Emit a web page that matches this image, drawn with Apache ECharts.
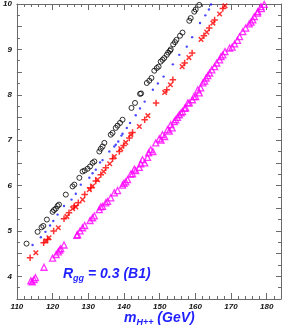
<!DOCTYPE html>
<html>
<head>
<meta charset="utf-8">
<script src="https://cdn.jsdelivr.net/npm/echarts@6/dist/echarts.min.js"></script>
<style>
html,body{margin:0;padding:0;background:#fff;}
#chart{width:284px;height:330px;}
</style>
</head>
<body>
<div id="chart"></div>
<script>
// x ticks (GeV) and y tick labels
const xTicks = [110, 120, 130, 140, 150, 160, 170, 180];
const yTicks = [4, 5, 6, 7, 8, 9, 10];

// black open circles [m_H++, value]
const blackCircles = [
  [112.7,4.72],[115.8,4.98],[116.9,5.08],[117.4,5.11],[118.4,5.25],[120.0,5.42],[120.4,5.46],
  [120.9,5.49],[121.4,5.55],[121.8,5.58],[123.7,5.80],[125.6,5.98],[126.1,6.02],[127.5,6.17],
  [128.4,6.31],[129.0,6.33],[129.8,6.37],[130.5,6.42],[131.2,6.50],[131.7,6.53],[133.1,6.75],
  [133.5,6.81],[134.0,6.86],[134.5,6.94],[136.3,7.12],[136.8,7.16],[137.7,7.27],[138.2,7.32],
  [138.9,7.38],[139.6,7.45],[142.1,7.71],[143.1,7.82],[144.5,8.02],[144.8,8.03],[146.4,8.26],
  [147.1,8.31],[147.7,8.37],[148.5,8.53],[149.2,8.59],[149.7,8.62],[150.3,8.73],[150.8,8.77],
  [151.3,8.81],[152.0,8.88],[152.4,8.93],[152.9,8.97],[153.1,9.00],[153.8,9.11],[154.3,9.16],
  [154.7,9.21],[155.7,9.30],[156.4,9.37],[158.3,9.63],[158.7,9.69],[159.7,9.83],[160.1,9.88],
  [161.1,9.98]
];

// blue small dots
const blueDots = [
  [114.4,4.69],[116.7,4.86],[118.0,4.98],[119.3,5.12],[120.2,5.22],[121.4,5.36],[123.2,5.55],
  [125.3,5.69],[126.5,5.82],[127.9,6.02],[130.3,6.17],[131.2,6.27],[132.1,6.35],[133.3,6.51],
  [134.0,6.56],[135.9,6.75],[137.3,6.86],[137.7,6.90],[138.4,6.97],[139.3,7.10],[139.6,7.14],
  [140.8,7.27],[141.7,7.38],[143.3,7.55],[144.5,7.70],[145.8,7.85],[148.1,8.11],[149.5,8.25],
  [151.1,8.40],[153.7,8.67],[155.5,8.88],[157.6,9.06],[159.1,9.27],[161.3,9.58],[162.8,9.75],
  [163.8,9.88],[164.4,9.99]
];

// red crosses
const redCrosses = [
  [113.7,4.41],[115.3,4.52],[117.5,4.74],[118.1,4.78],[118.6,4.81],[119.0,4.85],[120.3,5.00],
  [121.6,5.07],[123.2,5.27],[124.0,5.32],[124.6,5.40],[125.6,5.49],[126.1,5.55],[126.5,5.53],
  [127.2,5.62],[128.4,5.69],[129.0,5.80],[130.3,5.91],[130.7,5.95],[131.2,5.99],[132.1,6.10],
  [132.6,6.13],[133.5,6.24],[134.3,6.31],[134.9,6.39],[136.0,6.48],[136.8,6.59],[137.3,6.64],
  [138.7,6.75],[139.1,6.81],[139.9,6.88],[140.5,6.95],[141.5,7.05],[141.9,7.12],[142.4,7.17],
  [144.3,7.30],[145.8,7.45],[146.7,7.54],[149.0,7.82],[151.4,8.05],[152.0,8.11],[153.0,8.22],
  [153.7,8.33],[156.3,8.62],[157.0,8.70],[158.2,8.82],[159.1,8.92],[161.6,9.22],[162.4,9.30],
  [163.2,9.38],[163.9,9.47],[164.9,9.58],[165.4,9.65],[166.8,9.78],[167.7,9.90],[168.3,9.96]
];

// magenta open triangles
const magentaTriangles = [
  [113.9,3.90],[114.3,3.88],[114.8,3.93],[115.2,3.97],[117.6,4.20],[120.0,4.40],[121.0,4.48],
  [121.6,4.54],[122.0,4.58],[122.3,4.61],[123.2,4.69],[126.8,4.90],[127.0,4.92],[127.7,5.00],
  [128.4,5.07],[129.0,5.12],[130.5,5.23],[131.2,5.29],[131.7,5.33],[133.1,5.47],[133.5,5.53],
  [134.0,5.54],[134.9,5.62],[135.4,5.65],[136.3,5.73],[137.3,5.84],[138.2,5.89],[139.6,6.01],
  [140.0,6.05],[140.5,6.08],[141.0,6.13],[141.9,6.25],[142.4,6.26],[142.9,6.36],[143.3,6.33],
  [144.3,6.40],[144.7,6.48],[145.2,6.57],[145.8,6.50],[146.6,6.62],[146.9,6.72],[147.5,6.79],
  [148.1,6.75],[148.9,6.94],[149.9,7.03],[150.4,7.00],[150.8,7.12],[151.4,7.08],[152.2,7.23],
  [152.7,7.20],[153.1,7.34],[153.5,7.27],[154.1,7.41],[154.5,7.45],[155.0,7.50],[155.5,7.56],
  [156.0,7.60],[156.4,7.63],[157.0,7.70],[157.3,7.71],[157.9,7.82],[158.3,7.82],[159.2,7.89],
  [159.6,7.96],[160.1,7.96],[160.7,8.11],[161.1,8.04],[161.5,8.15],[162.1,8.26],[162.6,8.30],
  [163.0,8.37],[163.5,8.42],[164.0,8.48],[164.6,8.55],[165.4,8.62],[166.0,8.70],[166.8,8.77],
  [167.2,8.84],[167.7,8.88],[168.3,8.95],[169.6,9.03],[170.3,9.05],[171.0,9.12],[171.8,9.20],
  [172.4,9.28],[173.3,9.39],[174.1,9.47],[175.1,9.56],[175.6,9.60],[176.1,9.65],[176.5,9.72],
  [177.4,9.80],[177.5,9.83],[178.4,9.94],[178.5,9.90],[179.3,9.99]
];

const X_MIN = 110, X_MAX = 184, Y_MIN = 3.5, Y_MAX = 10;
const frameColor = '#6a6a6a';
const labelFont = {fontFamily: 'Liberation Sans', fontStyle: 'italic', fontWeight: 'bold', fontSize: 8, color: '#111'};

function xAxisCfg(pos, showLabels) {
  return {
    type: 'value', position: pos, min: X_MIN, max: X_MAX, interval: 10,
    axisLine: {show: true, onZero: false, lineStyle: {color: frameColor, width: 1}},
    axisTick: {show: true, inside: true, length: 6, lineStyle: {color: frameColor}},
    minorTick: {show: true, splitNumber: 5, length: 3, lineStyle: {color: frameColor}},
    splitLine: {show: false}, minorSplitLine: {show: false},
    axisLabel: Object.assign({show: showLabels, margin: 4, showMaxLabel: false,
      formatter: v => xTicks.indexOf(v) >= 0 ? String(v) : ''}, labelFont)
  };
}
function yAxisCfg(pos, showLabels) {
  return {
    type: 'value', position: pos, min: Y_MIN, max: Y_MAX, interval: 0.5,
    axisLine: {show: true, onZero: false, lineStyle: {color: frameColor, width: 1}},
    axisTick: {show: true, inside: true, length: 5, lineStyle: {color: frameColor}},
    minorTick: {show: true, splitNumber: 2, length: 3, lineStyle: {color: frameColor}},
    splitLine: {show: false}, minorSplitLine: {show: false},
    axisLabel: Object.assign({show: showLabels, margin: 5,
      formatter: v => yTicks.indexOf(v) >= 0 ? String(v) : ''}, labelFont)
  };
}

const chart = echarts.init(document.getElementById('chart'), null, {renderer: 'canvas'});
const plusPath = 'path://M5,0L5,10M0,5L10,5';

chart.setOption({
  animation: false,
  backgroundColor: '#fff',
  grid: {left: 16, right: 3, top: 4, bottom: 31},
  xAxis: [xAxisCfg('bottom', true), xAxisCfg('top', false)],
  yAxis: [yAxisCfg('left', true), yAxisCfg('right', false)],
  series: [
    {type: 'scatter', data: magentaTriangles, symbol: 'triangle', symbolSize: 6,
     itemStyle: {color: 'rgba(0,0,0,0)', borderColor: '#ff00ff', borderWidth: 1.3}},
    {type: 'scatter', data: redCrosses, symbol: plusPath, symbolSize: 6.5,
     symbolRotate: (v, p) => (p.dataIndex % 2 ? 45 : 0),
     itemStyle: {color: 'rgba(0,0,0,0)', borderColor: '#ff0000', borderWidth: 1.5}},
    {type: 'scatter', data: blueDots, symbol: 'circle', symbolSize: 2.4,
     itemStyle: {color: '#1a1aff'}},
    {type: 'scatter', data: blackCircles, symbol: 'circle', symbolSize: 5,
     itemStyle: {color: 'rgba(0,0,0,0)', borderColor: '#000', borderWidth: 1}}
  ],
  graphic: [
    {type: 'text', left: 63, top: 267, z: 10,
     style: {
       text: '{a|R}{b|gg}{a| = 0.3 (B1)}',
       rich: {
         a: {fontFamily: 'Liberation Sans', fontStyle: 'italic', fontWeight: 'bold', fontSize: 14, lineHeight: 18, fill: '#1f1fff', verticalAlign: 'middle'},
         b: {fontFamily: 'Liberation Sans', fontStyle: 'italic', fontWeight: 'bold', fontSize: 9, lineHeight: 11, fill: '#1f1fff', verticalAlign: 'bottom'}
       }
     }},
    {type: 'text', left: 124, top: 311, z: 10,
     style: {
       text: '{a|m}{b|H++}{a| (GeV)}',
       rich: {
         a: {fontFamily: 'Liberation Sans', fontStyle: 'italic', fontWeight: 'bold', fontSize: 14, lineHeight: 18, fill: '#1f1fff', verticalAlign: 'middle'},
         b: {fontFamily: 'Liberation Sans', fontStyle: 'italic', fontWeight: 'bold', fontSize: 9, lineHeight: 11, fill: '#1f1fff', verticalAlign: 'bottom'}
       }
     }}
  ]
});
</script>
</body>
</html>
